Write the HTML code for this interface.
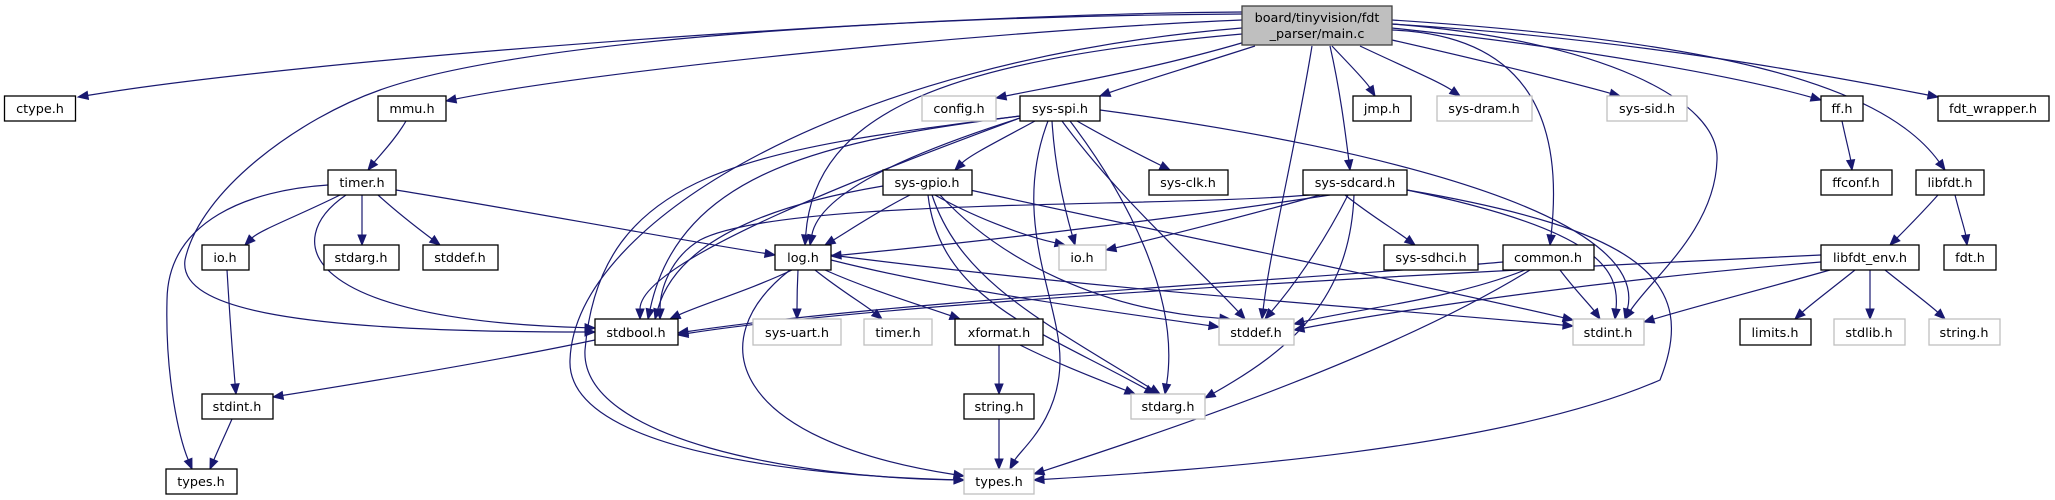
<!DOCTYPE html>
<html><head><meta charset="utf-8">
<style>
html,body{margin:0;padding:0;background:#fff;}
svg{display:block;}
text{font-family:"DejaVu Sans","Liberation Sans",sans-serif;font-size:12.8px;fill:#000;text-anchor:middle;}
.b{fill:#fff;stroke:#000;stroke-width:1.3;}
.g{fill:#fff;stroke:#bfbfbf;stroke-width:1.3;}
.e{fill:none;stroke:#191970;stroke-width:1.2;}
.a{fill:#191970;stroke:#191970;stroke-width:1;}
</style></head>
<body>
<svg id="s" width="2055" height="500" viewBox="0 0 2055 500" xmlns="http://www.w3.org/2000/svg">
<g id="edges"></g>
<rect x="1242" y="6" width="150" height="39" fill="#bfbfbf" stroke="#404040" stroke-width="1.3"/>
<text x="1317" y="22">board/tinyvision/fdt</text>
<text x="1317" y="38">_parser/main.c</text>

<rect class="b" x="4.5" y="96" width="71" height="25"/><text x="40" y="113">ctype.h</text>
<rect class="b" x="378" y="96" width="68" height="25"/><text x="412" y="113">mmu.h</text>
<rect class="g" x="922" y="96" width="74" height="25"/><text x="959" y="113">config.h</text>
<rect class="b" x="1020" y="96" width="80" height="25"/><text x="1060" y="113">sys-spi.h</text>
<rect class="b" x="1353" y="96" width="58" height="25"/><text x="1382" y="113">jmp.h</text>
<rect class="g" x="1437" y="96" width="95" height="25"/><text x="1484" y="113">sys-dram.h</text>
<rect class="g" x="1607" y="96" width="80" height="25"/><text x="1647" y="113">sys-sid.h</text>
<rect class="b" x="1821" y="96" width="42" height="25"/><text x="1842" y="113">ff.h</text>
<rect class="b" x="1938" y="96" width="111" height="25"/><text x="1993" y="113">fdt_wrapper.h</text>

<rect class="b" x="328" y="170" width="68" height="25"/><text x="362" y="187">timer.h</text>
<rect class="b" x="883" y="170" width="89" height="25"/><text x="927" y="187">sys-gpio.h</text>
<rect class="b" x="1149" y="170" width="79" height="25"/><text x="1188" y="187">sys-clk.h</text>
<rect class="b" x="1303" y="170" width="104" height="25"/><text x="1355" y="187">sys-sdcard.h</text>
<rect class="b" x="1821" y="170" width="71" height="25"/><text x="1856" y="187">ffconf.h</text>
<rect class="b" x="1916" y="170" width="68" height="25"/><text x="1950" y="187">libfdt.h</text>

<rect class="b" x="202" y="245" width="47" height="25"/><text x="225" y="262">io.h</text>
<rect class="b" x="324" y="245" width="75" height="25"/><text x="361" y="262">stdarg.h</text>
<rect class="b" x="423" y="245" width="75" height="25"/><text x="460" y="262">stddef.h</text>
<rect class="b" x="775" y="245" width="56" height="25"/><text x="803" y="262">log.h</text>
<rect class="g" x="1059" y="245" width="47" height="25"/><text x="1082" y="262">io.h</text>
<rect class="b" x="1384" y="245" width="94" height="25"/><text x="1431" y="262">sys-sdhci.h</text>
<rect class="b" x="1503" y="245" width="91" height="25"/><text x="1548" y="262">common.h</text>
<rect class="b" x="1821" y="245" width="98" height="25"/><text x="1870" y="262">libfdt_env.h</text>
<rect class="b" x="1944" y="245" width="52" height="25"/><text x="1970" y="262">fdt.h</text>

<rect class="b" x="595" y="319" width="83" height="26"/><text x="636" y="337">stdbool.h</text>
<rect class="g" x="753" y="319" width="88" height="26"/><text x="797" y="337">sys-uart.h</text>
<rect class="g" x="864" y="319" width="68" height="26"/><text x="898" y="337">timer.h</text>
<rect class="b" x="955" y="319" width="88" height="26"/><text x="999" y="337">xformat.h</text>
<rect class="g" x="1219" y="319" width="75" height="26"/><text x="1256" y="337">stddef.h</text>
<rect class="g" x="1573" y="319" width="71" height="26"/><text x="1608" y="337">stdint.h</text>
<rect class="b" x="1740" y="319" width="71" height="26"/><text x="1775" y="337">limits.h</text>
<rect class="g" x="1834" y="319" width="71" height="26"/><text x="1869" y="337">stdlib.h</text>
<rect class="g" x="1929" y="319" width="71" height="26"/><text x="1964" y="337">string.h</text>

<rect class="b" x="202" y="394" width="71" height="25"/><text x="237" y="411">stdint.h</text>
<rect class="b" x="964" y="394" width="70" height="25"/><text x="999" y="411">string.h</text>
<rect class="g" x="1131" y="394" width="74" height="25"/><text x="1168" y="411">stdarg.h</text>

<rect class="b" x="166" y="469" width="71" height="25"/><text x="201" y="486">types.h</text>
<rect class="g" x="964" y="469" width="70" height="25"/><text x="999" y="486">types.h</text>
</svg>
<script>
var E=[
[1242,12, 900,14, 300,60, 78,97],
[1242,20, 1000,30, 600,70, 446,101],
[1242,14, 900,16, 520,40, 380,90, 300,118, 200,190, 185,260, 178,310, 300,332, 595,332],
[1242,28, 850,60, 575,220, 570,360, 566,450, 800,476, 964,480],
[1242,34, 950,60, 815,110, 805,245],
[1245,42, 1150,70, 1060,85, 996,98],
[1255,46, 1180,70, 1130,85, 1100,96],
[1332,46, 1345,60, 1365,80, 1375,96],
[1360,46, 1400,65, 1440,82, 1460,96],
[1392,40, 1480,60, 1570,82, 1620,96],
[1392,28, 1600,50, 1750,80, 1821,100],
[1392,24, 1650,40, 1850,80, 1938,97],
[1392,20, 1700,40, 1880,80, 1945,170],
[1312,46, 1295,150, 1270,250, 1262,319],
[1330,46, 1340,90, 1345,130, 1350,170],
[1392,30, 1520,35, 1565,110, 1550,245],
[1392,24, 1600,40, 1720,100, 1717,160, 1715,230, 1650,280, 1625,319],
[406,121, 395,140, 380,155, 368,170],
[328,185, 250,190, 168,220, 167,300, 165,380, 180,440, 192,469],
[346,195, 280,240, 300,320, 595,328],
[340,195, 300,215, 260,230, 245,245],
[362,195, 362,215, 362,230, 362,245],
[378,195, 400,215, 420,230, 440,245],
[396,190, 520,210, 650,235, 775,255],
[227,270, 230,320, 233,360, 236,394],
[232,419, 225,435, 218,450, 210,469],
[595,340, 500,360, 380,380, 273,397],
[1035,121, 1000,140, 970,155, 955,170],
[1077,121, 1110,140, 1140,155, 1170,170],
[1052,121, 1055,170, 1065,210, 1075,245],
[1020,118, 920,150, 820,190, 810,245],
[1020,116, 830,140, 680,170, 648,319],
[1020,118, 880,170, 640,260, 640,319],
[1020,116, 750,150, 600,170, 585,350, 580,440, 800,478, 964,480],
[1062,121, 1120,200, 1200,270, 1245,319],
[1100,110, 1400,150, 1650,220, 1625,319],
[1070,121, 1130,200, 1180,300, 1165,394],
[910,195, 880,210, 850,230, 825,245],
[883,186, 800,200, 680,230, 655,319],
[935,195, 970,215, 1020,235, 1065,245],
[940,195, 1000,260, 1100,310, 1230,319],
[970,190, 1150,230, 1400,280, 1573,320],
[932,195, 960,280, 1040,320, 1160,394],
[928,195, 940,300, 1040,330, 1155,394],
[1048,121, 1010,220, 1060,300, 1060,360, 1060,420, 1020,450, 1010,469],
[1330,195, 1200,215, 1000,240, 831,256],
[1310,195, 1150,208, 780,198, 700,240, 670,258, 660,290, 660,319],
[1320,195, 1250,215, 1150,240, 1106,250],
[1345,195, 1370,215, 1395,230, 1415,245],
[1348,195, 1320,250, 1290,290, 1265,319],
[1354,195, 1350,300, 1290,350, 1205,398],
[1407,190, 1600,230, 1620,270, 1615,319],
[1407,190, 1640,230, 1700,280, 1660,380, 1500,450, 1200,470, 1034,480],
[792,270, 750,290, 700,305, 670,319],
[798,270, 797,290, 797,305, 797,319],
[815,270, 840,290, 865,305, 882,319],
[825,270, 870,290, 920,305, 960,319],
[790,270, 700,340, 730,440, 964,476],
[831,260, 950,290, 1100,310, 1219,327],
[831,255, 1100,290, 1400,310, 1573,326],
[999,345, 999,365, 999,380, 999,394],
[1020,345, 1060,365, 1100,380, 1135,394],
[999,419, 999,440, 999,455, 999,469],
[1503,262, 1300,280, 900,300, 678,333],
[1525,270, 1450,300, 1350,310, 1294,324],
[1560,270, 1575,290, 1590,305, 1600,319],
[1530,270, 1400,350, 1200,420, 1034,474],
[1842,121, 1846,140, 1850,155, 1852,170],
[1938,195, 1920,215, 1905,230, 1890,245],
[1955,195, 1960,215, 1965,230, 1967,245],
[1821,255, 1500,270, 900,300, 678,335],
[1821,262, 1600,280, 1400,310, 1294,330],
[1830,270, 1760,290, 1700,305, 1644,322],
[1855,270, 1830,290, 1810,305, 1795,319],
[1870,270, 1870,290, 1870,305, 1870,319],
[1885,270, 1910,290, 1930,305, 1945,319]
];
var g=document.getElementById('edges'),h='';
E.forEach(function(p){
 var n=p.length, ex=p[n-2], ey=p[n-1], cx=p[n-4], cy=p[n-3];
 var dx=ex-cx, dy=ey-cy, L=Math.sqrt(dx*dx+dy*dy)||1; dx/=L; dy/=L;
 var al=10, aw=4;
 var bx=ex-dx*al, by=ey-dy*al;
 var d='M'+p[0]+','+p[1]+' C';
 for(var i=2;i<n-2;i++) d+=p[i]+(i%2?' ':',');
 d+=bx.toFixed(1)+','+by.toFixed(1);
 h+='<path class="e" d="'+d+'"/>';
 h+='<polygon class="a" points="'+ex+','+ey+' '+(bx-dy*aw).toFixed(1)+','+(by+dx*aw).toFixed(1)+' '+(bx+dy*aw).toFixed(1)+','+(by-dx*aw).toFixed(1)+'"/>';
});
g.innerHTML=h;
</script>
</body></html>
